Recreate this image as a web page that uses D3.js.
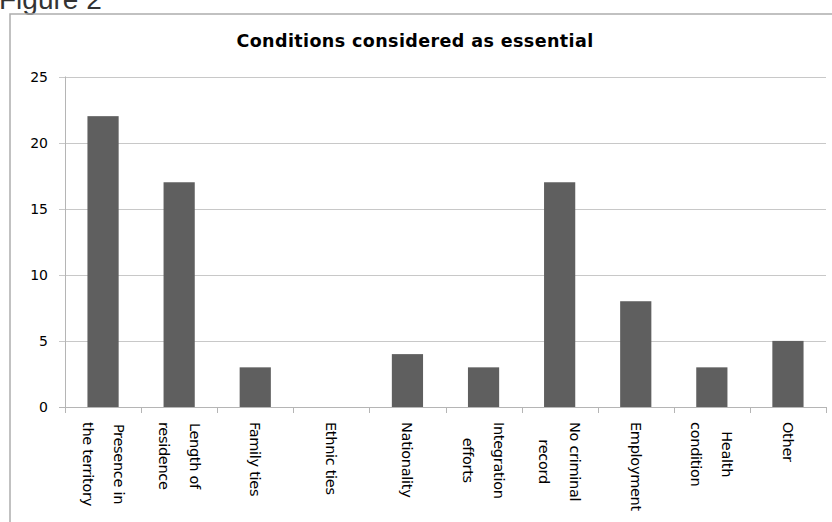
<!DOCTYPE html>
<html>
<head>
<meta charset="utf-8">
<script src="https://cdn.jsdelivr.net/npm/d3@7"></script>
<style>
  body { margin: 0; background: #fff; }
</style>
</head>
<body>
<div id="cnt"></div>
<script>
// datos
let categorias = [
    ["Presence in", "the territory"],
    ["Length of", "residence"],
    ["Family ties"],
    ["Ethnic ties"],
    ["Nationality"],
    ["Integration", "efforts"],
    ["No criminal", "record"],
    ["Employment"],
    ["Health", "condition"],
    ["Other"]
];
let valores = [22, 17, 3, 0, 4, 3, 17, 8, 3, 5];
let ticksY = [0, 5, 10, 15, 20, 25];
let titulo = "Conditions considered as essential";

let ancho = 832;
let largo = 522;

let svg = d3.select('#cnt')
    .append("svg")
    .attr('width', ancho)
    .attr('height', largo);

// texto figura (cortado arriba, como en el original)
svg.append("text")
    .text("Figure 2")
    .attr("x", -1)
    .attr("y", 9)
    .style("font-family", "Liberation Sans")
    .style("font-size", "28px")
    .style("fill", "#333");

// marco del grafico
svg.append("rect")
    .attr('x', 10)
    .attr('y', 14)
    .attr('width', 900)
    .attr('height', 600)
    .style('fill', 'none')
    .style('stroke', '#adadad')
    .style('stroke-width', 1.5);

// titulo
svg.append("text")
    .text(titulo)
    .attr("x", 415)
    .attr("y", 47)
    .attr("text-anchor", "middle")
    .style("font-family", "DejaVu Sans")
    .style("font-weight", "bold")
    .style("font-size", "17.5px")
    .style("letter-spacing", "0.4px")
    .style("fill", "#000");

let x0 = 65, x1 = 826;
let nombres = categorias.map(d => d.join(" "));

let x = d3.scaleBand()
    .domain(nombres)
    .range([x0, x1])
    .paddingInner(0.59)
    .paddingOuter(0.295);

let xCat = d3.scaleBand()
    .domain(nombres)
    .range([x0, x1])
    .padding(0);

let y = d3.scaleLinear()
    .domain([0, 25])
    .range([407, 76.5]);

// rejilla
svg.selectAll(".grid")
    .data(ticksY).enter()
    .append("line")
    .attr("x1", x0 - 6)
    .attr("x2", x1)
    .attr("y1", d => Math.round(y(d)) + 0.5)
    .attr("y2", d => Math.round(y(d)) + 0.5)
    .style("stroke", d => d === 0 ? "#b5b5b5" : "#c8c8c8")
    .style("stroke-width", 1);

// eje y
svg.append("line")
    .attr("x1", x0 + 0.5).attr("x2", x0 + 0.5)
    .attr("y1", y(25)).attr("y2", y(0) + 6)
    .style("stroke", "#b5b5b5");

svg.selectAll(".ty")
    .data(ticksY).enter()
    .append("text")
    .text(d => d)
    .attr("x", 48)
    .attr("y", d => y(d))
    .attr("text-anchor", "end")
    .attr("dominant-baseline", "central")
    .style("font-family", "DejaVu Sans")
    .style("font-size", "14px")
    .style("fill", "#000");

// marcas eje x
let bordes = nombres.map(d => xCat(d)).concat([x1]);
svg.selectAll(".tx")
    .data(bordes).enter()
    .append("line")
    .attr("x1", d => Math.round(d) + 0.5)
    .attr("x2", d => Math.round(d) + 0.5)
    .attr("y1", y(0))
    .attr("y2", y(0) + 6)
    .style("stroke", "#b5b5b5");

// barras
svg.selectAll(".bar")
    .data(valores).enter()
    .append("rect")
    .attr("x", (d, i) => x(nombres[i]))
    .attr("width", x.bandwidth())
    .attr("y", d => y(d))
    .attr("height", d => y(0) - y(d))
    .style("fill", "#5f5f5f");

// etiquetas x (giradas)
let interlinea = 31;
let g = svg.selectAll(".lbl")
    .data(categorias).enter()
    .append("g")
    .attr("transform", (d, i) => "translate(" + (xCat(nombres[i]) + xCat.bandwidth() / 2) + ",422) rotate(90)");

g.each(function (d) {
    let grupo = d3.select(this);
    let n = d.length;
    let textos = d.map((linea, j) => grupo.append("text")
        .text(linea)
        .attr("y", (j - (n - 1) / 2) * interlinea)
        .attr("dominant-baseline", "central")
        .attr("text-anchor", "middle")
        .style("font-family", "DejaVu Sans")
        .style("font-size", "14.5px")
        .style("letter-spacing", "-0.3px")
        .style("fill", "#000"));
    let maxLen = d3.max(textos, t => t.node().getComputedTextLength());
    textos.forEach(t => t.attr("x", maxLen / 2));
});
</script>
</body>
</html>
